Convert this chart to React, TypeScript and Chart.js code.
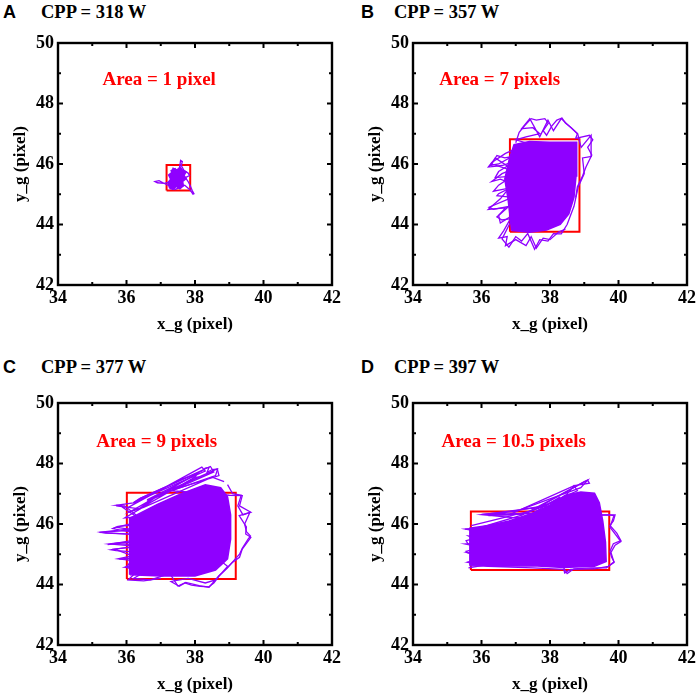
import { useEffect, useRef } from 'react';
import { Chart, registerables } from 'chart.js';

Chart.register(...registerables);

const serif = '"Liberation Serif", "Times New Roman", serif';
const sans = '"Liberation Sans", Arial, sans-serif';
const purple = '#8f00ff';

// axes
const xTickValues = [34, 36, 38, 40, 42];
const yTickValues = [42, 44, 46, 48, 50];
const xMinorValues = [35, 37, 39, 41];
const yMinorValues = [43, 45, 47, 49];

const panelLetters = ['A', 'B', 'C', 'D'];
const cppWatts = [318, 357, 377, 397];
const areaLabels = ['Area = 1 pixel', 'Area = 7 pixels', 'Area = 9 pixels', 'Area = 10.5 pixels'];

// bounding boxes: [xMin, yMin, xMax, yMax]
const boxA = [37.17, 45.12, 37.86, 45.97];
const boxB = [36.83, 43.76, 38.86, 46.82];
const boxC = [36.01, 44.18, 39.19, 47.03];
const boxD = [35.69, 44.48, 39.73, 46.41];

// dense part of each centroid trace (outline)
const coreA = [
  [37.26, 45.2], [37.36, 45.16], [37.45, 45.26], [37.56, 45.18], [37.66, 45.28], [37.64, 45.42],
  [37.74, 45.52], [37.68, 45.62], [37.74, 45.74], [37.63, 45.8], [37.57, 45.9], [37.47, 45.8],
  [37.36, 45.86], [37.32, 45.72], [37.23, 45.64], [37.29, 45.5], [37.21, 45.38], [37.26, 45.2],
];
const coreB = [
  [36.88, 43.8], [37.4, 43.74], [37.9, 43.82], [38.3, 44.0], [38.55, 44.35], [38.7, 44.9],
  [38.76, 45.6], [38.78, 46.3], [38.78, 46.72], [38.0, 46.72], [37.4, 46.74], [36.95, 46.64],
  [36.82, 46.2], [36.68, 45.5], [36.78, 44.8], [36.88, 43.8],
];
const coreC = [
  [36.1, 44.32], [37.0, 44.28], [38.0, 44.28], [38.6, 44.48], [38.95, 44.85], [39.04, 45.5],
  [39.04, 46.3], [38.95, 46.9], [38.75, 47.2], [38.3, 47.3], [37.6, 47.0], [36.9, 46.65],
  [36.3, 46.3], [36.1, 46.2], [36.08, 45.5], [36.1, 44.32],
];
const coreD = [
  [35.66, 44.62], [36.5, 44.6], [37.5, 44.62], [38.4, 44.56], [39.3, 44.6], [39.64, 44.76],
  [39.62, 45.4], [39.54, 46.1], [39.44, 46.7], [39.3, 47.02], [38.9, 47.06], [38.45, 46.95],
  [38.0, 46.62], [37.4, 46.32], [36.8, 46.1], [36.2, 45.95], [35.66, 45.86], [35.66, 44.62],
];

// loose strands of each trace
const strandsA = [
  [
    [37.45, 45.5], [37.3, 45.42], [37.1, 45.36], [36.9, 45.38], [36.83, 45.42], [36.95, 45.45],
    [37.15, 45.33], [37.25, 45.28], [37.4, 45.3], [37.52, 45.58], [37.55, 45.9], [37.58, 46.12],
    [37.63, 46.08], [37.6, 45.95], [37.68, 45.78], [37.8, 45.7], [37.84, 45.62], [37.72, 45.55],
    [37.8, 45.42], [37.86, 45.28], [37.92, 45.12], [37.97, 45.02], [37.94, 45.0], [37.85, 45.15],
    [37.7, 45.3], [37.55, 45.22], [37.42, 45.16], [37.3, 45.25], [37.36, 45.6], [37.3, 45.78],
    [37.42, 45.85], [37.5, 45.7],
  ],
];
const strandsB = [
  [
    [37.2, 45.6], [36.4, 46.2], [36.25, 45.95], [36.5, 46.0], [36.9, 46.25], [36.68, 46.2],
    [36.45, 46.28], [36.3, 46.0], [36.85, 45.8], [36.6, 45.68], [36.3, 45.42], [36.55, 45.5],
    [37.0, 45.3], [36.5, 45.02], [36.45, 44.95], [36.9, 44.9], [36.22, 44.57], [36.35, 44.5],
    [36.8, 44.6], [36.45, 44.25], [36.6, 44.15], [36.9, 44.2], [36.6, 43.52], [36.8, 43.25],
    [37.0, 43.6], [37.17, 43.45], [37.35, 43.7], [37.55, 43.18], [37.7, 43.5], [37.94, 43.45],
    [38.1, 43.7], [38.33, 43.69], [38.5, 44.0], [38.7, 44.6], [38.82, 45.23], [39.0, 45.68],
    [38.95, 46.2], [39.22, 46.25], [39.2, 46.95], [38.91, 46.55], [38.85, 46.8], [38.81, 47.0],
    [38.48, 47.34], [38.33, 47.5], [38.1, 47.1], [37.94, 47.45], [37.7, 46.9], [37.41, 47.5],
    [37.17, 47.17], [37.5, 47.2], [37.7, 47.0], [37.3, 46.9], [37.0, 46.8], [37.6, 46.6],
  ],
  [
    [37.0, 46.5], [36.7, 46.35], [36.3, 46.05], [36.2, 45.9], [36.6, 45.95], [37.0, 46.1],
    [36.5, 45.75], [36.4, 45.55], [36.9, 45.6], [36.5, 45.3], [36.35, 45.1], [36.8, 45.2],
    [36.55, 44.85], [36.3, 44.6], [36.2, 44.5], [36.7, 44.55], [36.5, 44.3], [36.55, 44.05],
    [36.9, 44.3], [36.65, 43.8], [36.5, 43.55], [36.75, 43.6], [36.7, 43.3], [37.0, 43.5],
    [37.3, 43.3], [37.45, 43.6], [37.6, 43.22], [37.8, 43.55], [38.0, 43.5], [38.25, 43.75],
    [38.45, 43.85],
  ],
  [
    [37.0, 46.7], [37.1, 47.05], [37.25, 47.25], [37.45, 47.5], [37.6, 47.45], [37.85, 47.5],
    [37.95, 47.35], [37.8, 47.1], [37.9, 46.95], [38.05, 47.25], [38.2, 47.45], [38.35, 47.52],
    [38.45, 47.35], [38.62, 47.2], [38.8, 47.0], [38.75, 46.85], [39.15, 46.95], [39.25, 46.8],
    [39.1, 46.55], [39.22, 46.3], [39.05, 45.9], [38.95, 45.6], [38.8, 45.25], [38.75, 44.9],
  ],
];
const strandsC = [
  [
    [37.0, 45.6], [35.21, 45.72], [35.5, 45.75], [36.3, 45.8], [35.7, 45.89], [35.9, 45.95],
    [36.5, 46.1], [35.94, 46.6], [35.7, 46.62], [36.2, 46.7], [36.4, 46.85], [37.5, 47.4],
    [38.22, 47.76], [38.3, 47.85], [38.41, 47.87], [38.35, 47.7], [38.5, 47.8], [38.66, 47.82],
    [38.6, 47.6], [37.2, 47.05], [36.6, 46.8], [37.9, 47.55], [38.1, 47.55], [37.3, 47.1],
    [39.0, 46.95], [39.38, 46.94], [39.3, 46.6], [39.63, 46.39], [39.29, 46.28], [39.5, 45.9],
    [39.48, 45.67], [39.63, 45.56], [39.38, 45.17], [39.3, 44.9], [39.09, 44.73], [38.7, 44.29],
    [38.41, 43.91], [38.12, 43.96], [37.73, 44.07], [37.54, 43.94], [37.3, 44.1], [37.8, 44.2],
    [38.3, 44.05], [38.6, 44.15], [38.95, 44.6], [38.5, 45.0], [35.79, 44.84], [36.3, 44.9],
    [35.65, 45.17], [35.9, 45.2], [36.4, 45.25], [35.5, 45.34], [35.8, 45.38], [36.6, 45.4],
    [35.99, 44.57], [36.2, 44.5], [36.5, 44.65], [36.05, 44.15], [36.5, 44.12], [37.0, 44.2],
  ],
  [
    [36.05, 46.55], [38.2, 47.88], [38.3, 47.75], [36.2, 46.7], [36.4, 46.85], [38.45, 47.9],
    [38.55, 47.72], [36.6, 46.75], [36.8, 46.9], [38.65, 47.82], [38.7, 47.6], [37.0, 47.0],
    [36.3, 46.45], [38.0, 47.55], [38.1, 47.7], [36.1, 46.4], [36.5, 46.55], [38.5, 47.55],
    [38.85, 47.4],
  ],
  [
    [36.6, 45.9], [35.25, 45.73], [35.4, 45.7], [36.5, 45.65], [35.6, 45.85], [35.75, 45.92],
    [36.6, 46.0], [35.85, 46.58], [35.7, 46.6], [36.4, 46.5], [35.95, 46.2], [36.5, 46.25],
    [36.4, 45.5], [35.45, 45.32], [35.7, 45.35], [36.5, 45.3], [35.55, 45.15], [35.7, 45.12],
    [36.6, 45.05], [35.75, 44.85], [35.95, 44.82], [36.5, 44.75], [35.95, 44.57], [36.1, 44.55],
    [36.6, 44.45], [36.2, 44.2], [36.7, 44.15], [37.1, 44.3],
  ],
  [
    [37.3, 44.3], [37.5, 43.95], [37.7, 44.05], [37.9, 43.98], [38.15, 43.94], [38.4, 43.92],
    [38.55, 44.05], [38.7, 44.28], [38.95, 44.55], [39.1, 44.75], [39.3, 45.0], [39.38, 45.2],
    [39.55, 45.5], [39.62, 45.6], [39.5, 45.75], [39.45, 46.0], [39.6, 46.38], [39.4, 46.3],
    [39.25, 46.6], [39.35, 46.95], [39.1, 47.0], [38.95, 47.3],
  ],
];
const strandsD = [
  [
    [37.0, 45.5], [35.53, 45.83], [35.9, 45.86], [37.2, 46.3], [39.1, 47.45], [39.15, 47.35],
    [38.71, 47.27], [36.8, 46.3], [36.2, 46.28], [37.5, 46.35], [38.3, 46.9], [38.0, 46.6],
    [36.0, 46.31], [37.0, 46.2], [39.7, 46.3], [39.87, 46.28], [39.75, 45.9], [40.07, 45.42],
    [39.9, 45.3], [39.78, 45.06], [39.87, 44.73], [39.7, 44.6], [39.3, 44.52], [38.6, 44.5],
    [38.43, 44.38], [38.4, 44.5], [37.5, 44.55], [36.2, 44.6], [35.62, 44.73], [36.3, 44.8],
    [35.57, 45.06], [36.5, 45.1], [35.53, 45.34], [36.0, 45.35], [35.62, 45.6], [36.4, 45.5],
  ],
  [
    [35.7, 45.95], [37.5, 46.45], [39.0, 47.4], [39.1, 47.45], [38.9, 47.2], [37.0, 46.42],
    [36.0, 46.32], [37.3, 46.35], [38.4, 46.85], [38.7, 47.27], [38.8, 47.1], [37.8, 46.6],
    [36.3, 46.3], [37.2, 46.32],
  ],
  [
    [36.3, 45.85], [35.52, 45.83], [35.65, 45.82], [36.4, 45.7], [35.55, 45.45], [35.6, 45.35],
    [36.3, 45.3], [35.55, 45.1], [35.6, 45.05], [36.4, 44.95], [35.62, 44.75], [35.7, 44.72],
    [36.4, 44.7], [35.62, 44.55],
  ],
  [
    [39.5, 46.3], [39.9, 46.3], [39.85, 46.1], [39.75, 45.95], [39.95, 45.7], [40.07, 45.45],
    [39.85, 45.35], [39.75, 45.1], [39.8, 44.9], [39.87, 44.75], [39.65, 44.55], [39.2, 44.55],
    [38.7, 44.52], [38.5, 44.36], [38.4, 44.55],
  ],
];

// where the "Area = ..." note starts, in data units
const noteA = [35.3, 48.78];
const noteB = [34.77, 48.78];
const noteC = [35.12, 48.72];
const noteD = [34.83, 48.72];

const toPoints = (arr: number[][]) => arr.map(([x, y]) => ({ x, y }));
const boxPath = (b: number[]) => [[b[0], b[1]], [b[2], b[1]], [b[2], b[3]], [b[0], b[3]], [b[0], b[1]]];

// frame with inward ticks on all four sides, plus the red note
const framePlugin = {
  id: 'frame',
  afterDraw(chart: any, _args: any, opts: any) {
    const { ctx, chartArea: a, scales } = chart;
    const sx = scales.x;
    const sy = scales.y;
    ctx.save();

    ctx.fillStyle = '#ff0000';
    ctx.font = `bold 19px ${serif}`;
    ctx.textBaseline = 'middle';
    ctx.textAlign = 'left';
    ctx.fillText(opts.text, sx.getPixelForValue(opts.at[0]), sy.getPixelForValue(opts.at[1]));

    ctx.strokeStyle = '#000';
    ctx.lineWidth = 2;
    ctx.beginPath();
    const tickX = (v: number, len: number) => {
      const px = sx.getPixelForValue(v);
      ctx.moveTo(px, a.bottom);
      ctx.lineTo(px, a.bottom - len);
      ctx.moveTo(px, a.top);
      ctx.lineTo(px, a.top + len);
    };
    const tickY = (v: number, len: number) => {
      const py = sy.getPixelForValue(v);
      ctx.moveTo(a.left, py);
      ctx.lineTo(a.left + len, py);
      ctx.moveTo(a.right, py);
      ctx.lineTo(a.right - len, py);
    };
    xTickValues.forEach((v) => tickX(v, 5));
    xMinorValues.forEach((v) => tickX(v, 3));
    yTickValues.forEach((v) => tickY(v, 5));
    yMinorValues.forEach((v) => tickY(v, 3));
    ctx.stroke();

    ctx.lineWidth = 2.4;
    ctx.strokeRect(a.left, a.top, a.right - a.left, a.bottom - a.top);
    ctx.restore();
  },
};

const tickFont = { family: serif, size: 18, weight: 'bold' as const };
const titleFont = { family: serif, size: 17, weight: 'bold' as const };

interface PanelProps {
  core: number[][];
  strands: number[][][];
  box: number[];
  note: string;
  noteAt: number[];
}

function TracePanel({ core, strands, box, note, noteAt }: PanelProps) {
  const canvasRef = useRef<HTMLCanvasElement>(null);

  useEffect(() => {
    if (!canvasRef.current) return;
    const chart = new Chart(canvasRef.current, {
      type: 'scatter',
      data: {
        datasets: [
          {
            data: toPoints(core),
            showLine: true,
            fill: 'shape',
            backgroundColor: purple,
            borderColor: purple,
            borderWidth: 1.5,
            pointRadius: 0,
          },
          ...strands.map((s) => ({
            data: toPoints(s),
            showLine: true,
            borderColor: purple,
            borderWidth: 1.3,
            pointRadius: 0,
          })),
          {
            data: toPoints(boxPath(box)),
            showLine: true,
            borderColor: '#ff0000',
            borderWidth: 2,
            pointRadius: 0,
          },
        ],
      },
      options: {
        animation: false,
        responsive: true,
        maintainAspectRatio: false,
        events: [],
        layout: { padding: { left: 0, top: 43, right: 10, bottom: 0 } },
        plugins: {
          legend: { display: false },
          tooltip: { enabled: false },
          frame: { text: note, at: noteAt },
        } as any,
        scales: {
          x: {
            type: 'linear',
            min: 34,
            max: 42,
            afterBuildTicks: (s: any) => {
              s.ticks = xTickValues.map((value) => ({ value }));
            },
            afterFit: (s: any) => {
              s.height = 53;
            },
            grid: { display: false, drawTicks: false },
            border: { display: false },
            ticks: { color: '#000', font: tickFont, padding: 3, maxRotation: 0 },
            title: {
              display: true,
              text: 'x_g (pixel)',
              color: '#000',
              font: titleFont,
              padding: { top: 0, bottom: 3 },
            },
          },
          y: {
            type: 'linear',
            min: 42,
            max: 50,
            afterBuildTicks: (s: any) => {
              s.ticks = yTickValues.map((value) => ({ value }));
            },
            afterFit: (s: any) => {
              s.width = 58;
            },
            grid: { display: false, drawTicks: false },
            border: { display: false },
            ticks: { color: '#000', font: tickFont, padding: 4 },
            title: {
              display: true,
              text: 'y_g (pixel)',
              color: '#000',
              font: titleFont,
              padding: { top: 10, bottom: 0 },
            },
          },
        },
      },
      plugins: [framePlugin],
    });
    return () => chart.destroy();
  }, [core, strands, box, note, noteAt]);

  return <canvas ref={canvasRef} />;
}

const panelData = [
  { core: coreA, strands: strandsA, box: boxA, noteAt: noteA },
  { core: coreB, strands: strandsB, box: boxB, noteAt: noteB },
  { core: coreC, strands: strandsC, box: boxC, noteAt: noteC },
  { core: coreD, strands: strandsD, box: boxD, noteAt: noteD },
];

// page placement of each panel and its heading
const panelSlots = [
  { left: 0, top: 0, letterX: 3, cppX: 41, headY: 2 },
  { left: 355, top: 0, letterX: 361, cppX: 394, headY: 2 },
  { left: 0, top: 360, letterX: 3, cppX: 41, headY: 357 },
  { left: 355, top: 360, letterX: 361, cppX: 394, headY: 357 },
];

export default function App() {
  return (
    <div style={{ position: 'absolute', left: 0, top: 0, width: 699, height: 698, background: '#fff', overflow: 'hidden' }}>
      {panelData.map((p, i) => {
        const slot = panelSlots[i];
        return (
          <div key={panelLetters[i]}>
            <div style={{ position: 'absolute', left: slot.letterX, top: slot.headY, lineHeight: '20px', font: `bold 18px ${sans}`, color: '#000' }}>
              {panelLetters[i]}
            </div>
            <div style={{ position: 'absolute', left: slot.cppX, top: slot.headY, lineHeight: '20px', font: `bold 18.5px ${serif}`, color: '#000', whiteSpace: 'nowrap' }}>
              {`CPP = ${cppWatts[i]} W`}
            </div>
            <div style={{ position: 'absolute', left: slot.left, top: slot.top, width: 344, height: 338 }}>
              <TracePanel core={p.core} strands={p.strands} box={p.box} note={areaLabels[i]} noteAt={p.noteAt} />
            </div>
          </div>
        );
      })}
    </div>
  );
}
